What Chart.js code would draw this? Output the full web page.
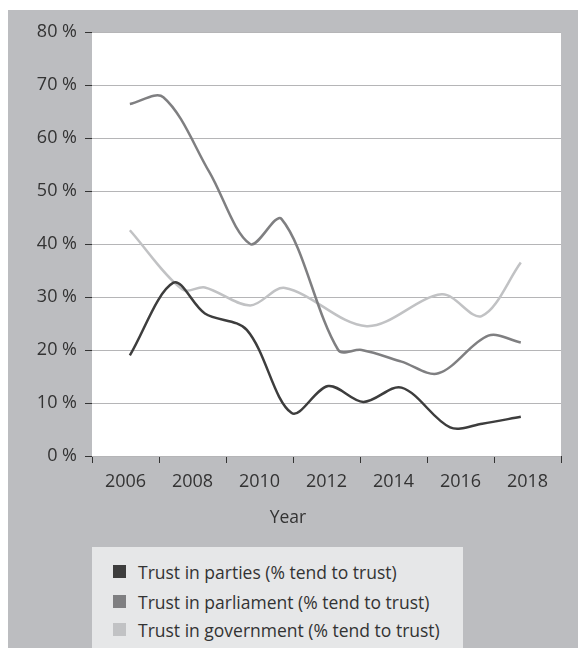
<!DOCTYPE html>
<html>
<head>
<meta charset="utf-8">
<script src="https://cdn.jsdelivr.net/npm/chart.js@4"></script>
<style>
  body { margin: 0; background: #fff; font-family: "Open Sans", sans-serif; }
  #panel { position: absolute; left: 8px; top: 10px; width: 570px; height: 638px; background: #bcbdc0; }
  #wrap { position: absolute; left: 0; top: 0; width: 570px; height: 530px; }
  #legend { position: absolute; left: 84px; top: 537px; width: 371px; height: 101px; background: #e6e7e8; }
  .item { position: absolute; left: 21px; height: 20px; line-height: 20px; font-size: 17.5px; color: #333; white-space: nowrap; }
  .item span { position: absolute; left: 0; top: 3px; width: 13px; height: 13px; }
  .item b { font-weight: normal; position: absolute; left: 25px; top: 0; }
</style>
</head>
<body>
<div id="panel">
  <div id="wrap"><canvas id="chart"></canvas></div>
  <div id="legend"></div>
</div>
<script>
// x positions are in decimal years, values in %
const partiesYears = [2006.13, 2007.43, 2008.37, 2009.62, 2010.96, 2012.05, 2013.1, 2014.24, 2015.69, 2016.65, 2017.8];
const partiesValues = [19.0, 32.7, 26.9, 23.8, 8.1, 13.2, 10.2, 12.9, 5.4, 6.1, 7.4];

const parliamentYears = [2006.13, 2007.13, 2008.5, 2009.72, 2010.66, 2012.35, 2013.05, 2014.24, 2015.34, 2016.83, 2017.8];
const parliamentValues = [66.4, 67.7, 53.6, 40.0, 44.7, 20.0, 20.0, 17.8, 15.6, 22.7, 21.4];

const governmentYears = [2006.13, 2007.7, 2008.37, 2009.72, 2010.76, 2013.2, 2015.44, 2016.63, 2017.8];
const governmentValues = [42.6, 31.4, 31.8, 28.4, 31.7, 24.5, 30.5, 26.4, 36.5];

const labelYears = [2006, 2008, 2010, 2012, 2014, 2016, 2018];
const tickYears = [2005, 2007, 2009, 2011, 2013, 2015, 2017, 2019];
const yTicks = [0, 10, 20, 30, 40, 50, 60, 70, 80];

const seriesNames = [
  "Trust in parties (% tend to trust)",
  "Trust in parliament (% tend to trust)",
  "Trust in government (% tend to trust)"
];
const seriesColors = ["#3d3d3d", "#7f7f81", "#c1c2c4"];

function pts(xs, ys) {
  return xs.map((x, i) => ({ x: x, y: ys[i] }));
}

const plotBg = {
  id: "plotBg",
  beforeDraw(c) {
    const a = c.chartArea, ctx = c.ctx;
    ctx.save();
    ctx.fillStyle = "#ffffff";
    ctx.fillRect(a.left, a.top, a.right - a.left, a.bottom - a.top);
    ctx.restore();
  },
  afterDraw(c) {
    // axis title, centred under the whole figure like the original
    const ctx = c.ctx;
    ctx.save();
    ctx.font = "17.5px 'Open Sans'";
    ctx.fillStyle = "#333";
    ctx.textAlign = "center";
    ctx.textBaseline = "middle";
    ctx.fillText("Year", 280, 508);
    ctx.restore();
  }
};

const datasets = [
  pts(partiesYears, partiesValues),
  pts(parliamentYears, parliamentValues),
  pts(governmentYears, governmentValues)
].map((d, i) => ({
  label: seriesNames[i],
  data: d,
  borderColor: seriesColors[i],
  backgroundColor: seriesColors[i],
  borderWidth: 2.5,
  pointRadius: 0,
  tension: 0.33,
  fill: false
}));

new Chart(document.getElementById("chart"), {
  type: "line",
  data: { datasets: datasets },
  options: {
    responsive: true,
    maintainAspectRatio: false,
    animation: false,
    layout: { padding: { top: 22, right: 17, left: 0, bottom: 0 } },
    plugins: { legend: { display: false }, tooltip: { enabled: false } },
    scales: {
      x: {
        type: "linear",
        min: 2005,
        max: 2019,
        afterBuildTicks(scale) {
          const all = tickYears.concat(labelYears).sort((a, b) => a - b);
          scale.ticks = all.map(v => ({ value: v }));
        },
        afterFit(scale) { scale.height = 84; },
        border: { display: false },
        grid: {
          drawOnChartArea: false,
          tickLength: 7,
          tickColor: ctx => tickYears.includes(ctx.tick.value) ? "#333" : "transparent"
        },
        ticks: {
          autoSkip: false,
          maxRotation: 0,
          minRotation: 0,
          padding: 8,
          color: "#333",
          font: { family: "Open Sans", size: 18 },
          callback: v => labelYears.includes(v) ? String(v) : ""
        }
      },
      y: {
        min: 0,
        max: 80,
        afterBuildTicks(scale) { scale.ticks = yTicks.map(v => ({ value: v })); },
        afterFit(scale) { scale.width = 84; },
        border: { display: false },
        grid: { color: "#b5b5b7", lineWidth: 1, tickLength: 7, tickColor: "#333" },
        ticks: {
          padding: 8,
          color: "#333",
          font: { family: "Open Sans", size: 18 },
          callback: v => v + " %"
        }
      }
    }
  },
  plugins: [plotBg]
});

// legend box built from the same series names / colours
const legend = document.getElementById("legend");
const rowTops = [15, 45, 73];
seriesNames.forEach((name, i) => {
  const row = document.createElement("div");
  row.className = "item";
  row.style.top = rowTops[i] + "px";
  row.innerHTML = '<span style="background:' + seriesColors[i] + '"></span><b>' + name + "</b>";
  legend.appendChild(row);
});
</script>
</body>
</html>
